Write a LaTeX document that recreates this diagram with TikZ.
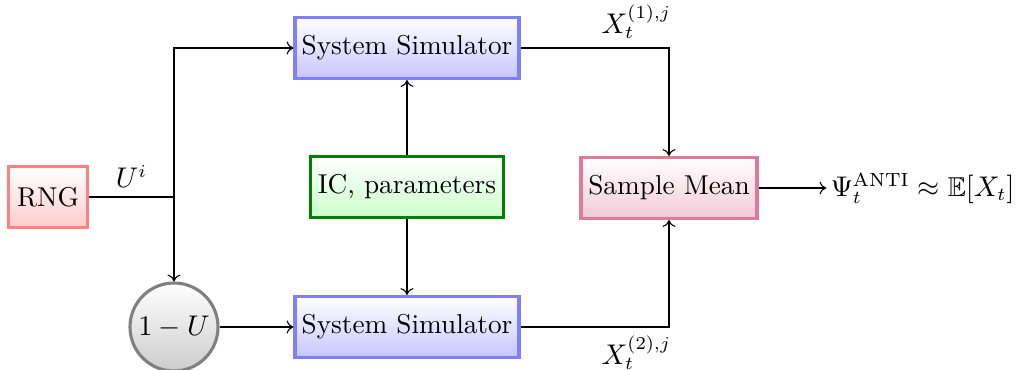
\documentclass[tikz,border=0pt]{standalone}
\usepackage{amsmath,amssymb}
\usetikzlibrary{arrows.meta,shadings}
\definecolor{rngc}{RGB}{255,128,128}
\definecolor{simc}{RGB}{128,128,255}
\definecolor{icc}{RGB}{0,128,0}
\definecolor{smc}{RGB}{224,122,154}
\definecolor{uc}{RGB}{128,128,128}
\newcommand{\dfont}{\fontsize{10.5}{13}\selectfont}
\tikzset{
  blk/.style={rectangle, very thick, inner sep=0pt, font=\dfont},
  rngbox/.style={blk, draw=rngc, top color=white, bottom color=rngc!40, minimum width=79\px, minimum height=61\px},
  simbox/.style={blk, draw=simc, top color=white, bottom color=simc!45, minimum width=224\px, minimum height=61\px},
  icbox/.style={blk, draw=icc, top color=white, bottom color=green!20, minimum width=193\px, minimum height=61\px},
  smbox/.style={blk, draw=smc, top color=white, bottom color=smc!40, minimum width=176\px, minimum height=61\px},
  ucirc/.style={circle, very thick, draw=uc, top color=white, bottom color=uc!40, minimum size=88\px, inner sep=0pt, font=\dfont},
  conn/.style={-{To[length=2.6pt,width=5pt]}, line width=0.42pt},
  lbl/.style={font=\dfont}
}
\newlength{\px}
\setlength{\px}{0.01354cm}
\begin{document}
\begin{tikzpicture}[x=0.01354cm, y=-0.01354cm]
\useasboundingbox (0,0) rectangle (1019,370);
\node[rngbox] (rng) at (48,197) {RNG};
\node[ucirc] (u) at (174,327) {$1-U$};
\node[simbox] (sim1) at (407,48) {System Simulator};
\node[simbox] (sim2) at (407,327) {System Simulator};
\node[icbox] (ic) at (407,187) {IC, parameters};
\node[smbox] (sm) at (669,188) {Sample Mean};
\node[lbl, anchor=east, inner sep=0pt] (out) at (1015,188) {$\Psi_t^{\text{ANTI}} \approx \mathbb{E}[X_t]$};
\coordinate (split) at (174,197);
\coordinate (c1) at (669,48);
\coordinate (c2) at (669,327);
\draw[line width=0.42pt] (rng.east) -- node[lbl, above, pos=0.5] (ul) {$U^i$} (split);
\draw[conn] (split) |- (sim1.west);
\draw[conn] (split) -- (u.north);
\draw[conn] (u.east) -- (sim2.west);
\draw[conn] (ic.north) -- (sim1.south);
\draw[conn] (ic.south) -- (sim2.north);
\draw[conn] (sim1.east) -- node[lbl, above, pos=0.78] (x1) {$X_t^{(1),j}$} (c1) -- (sm.north);
\draw[conn] (sim2.east) -- node[lbl, below, pos=0.78] (x2) {$X_t^{(2),j}$} (c2) -- (sm.south);
\draw[conn] (sm.east) -- ([xshift=-4\px]out.west);
\end{tikzpicture}
\end{document}
